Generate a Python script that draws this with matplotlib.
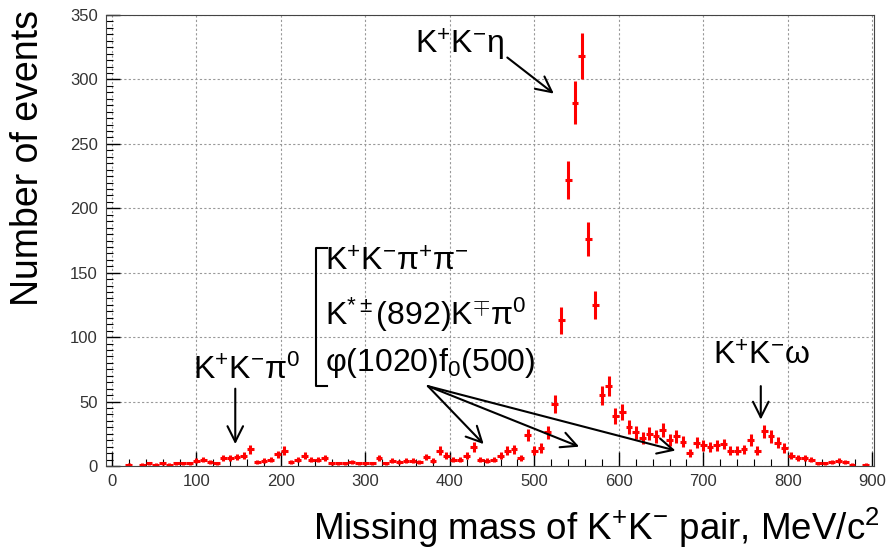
import numpy as np
import matplotlib
matplotlib.use("Agg")
import matplotlib.pyplot as plt
from matplotlib.ticker import MultipleLocator

plt.rcParams['font.family'] = ['Liberation Sans', 'DejaVu Sans']
plt.rcParams['mathtext.fontset'] = 'custom'
plt.rcParams['mathtext.rm'] = 'Liberation Sans'
plt.rcParams['mathtext.it'] = 'Liberation Sans'
plt.rcParams['mathtext.bf'] = 'Liberation Sans:bold'

# missing mass bin centres (MeV/c^2), 8 MeV bins
mass = [20, 28, 36, 44, 52, 60, 68, 76, 84, 92, 100, 108, 116, 124, 132, 140,
        148, 156, 164, 172, 180, 188, 196, 204, 212, 220, 228, 236, 244, 252,
        260, 268, 276, 284, 292, 300, 308, 316, 324, 332, 340, 348, 356, 364,
        372, 380, 388, 396, 404, 412, 420, 428, 436, 444, 452, 460, 468, 476,
        484, 492, 500, 508, 516, 524, 532, 540, 548, 556, 564, 572, 580, 588,
        596, 604, 612, 620, 628, 636, 644, 652, 660, 668, 676, 684, 692, 700,
        708, 716, 724, 732, 740, 748, 756, 764, 772, 780, 788, 796, 804, 812,
        820, 828, 836, 844, 852, 860, 868, 876, 884, 892]
events = [1, 0, 1, 2, 1, 2, 1, 2, 2, 2, 4, 5, 3, 2, 6, 6,
          7, 8, 13, 3, 4, 5, 9, 12, 3, 5, 8, 5, 5, 6,
          2, 2, 2, 3, 2, 2, 2, 6, 2, 4, 3, 4, 4, 3,
          7, 4, 12, 8, 5, 5, 8, 15, 5, 4, 5, 8, 12, 13,
          6, 24, 12, 14, 26, 48, 113, 222, 282, 318, 176, 125, 55, 62,
          39, 42, 30, 26, 22, 25, 23, 28, 20, 23, 19, 10, 18, 16,
          15, 16, 17, 12, 12, 13, 20, 12, 27, 23, 18, 14, 8, 6,
          6, 5, 2, 2, 3, 4, 3, 1, 0, 1]
bin_half = 4

mass = np.array(mass)
events = np.array(events, dtype=float)
keep = events > 0

fig = plt.figure(figsize=(8.89, 5.52), dpi=100)
ax = fig.add_axes([106/889, 1-466/552, 768/889, 451/552])

ax.errorbar(mass[keep], events[keep], yerr=np.sqrt(events[keep]), xerr=bin_half,
            fmt='none', ecolor='red', elinewidth=2.2, capsize=0)

ax.set_xlim(-7, 902)
ax.set_ylim(0, 350)
ax.xaxis.set_major_locator(MultipleLocator(100))
ax.xaxis.set_minor_locator(MultipleLocator(20))
ax.yaxis.set_major_locator(MultipleLocator(50))
ax.yaxis.set_minor_locator(MultipleLocator(5))
ax.tick_params(which='both', direction='in', labelsize=12, pad=6, labelcolor='#333333')
ax.tick_params(which='major', length=10, width=1)
ax.tick_params(which='minor', length=5, width=0.8)
ax.grid(True, which='major', linestyle=(0, (2, 2)), color='#999999', linewidth=0.8)
for s in ax.spines.values():
    s.set_color('#444444')

fig.text(28/889, 1-10/552, "Number of events", rotation=90, ha='center', va='top', fontsize=27)
fig.text(880/889, 1-540/552, r"Missing mass of K$^{+}$K$^{-}$ pair, MeV/c$^{2}$",
         ha='right', va='baseline', fontsize=26.5)

arrow = dict(arrowstyle='->', lw=1.5, color='black', mutation_scale=28, shrinkA=0, shrinkB=0)

# K+K- eta
ax.text(359, 327, "K$^{+}$K$^{-}$η", fontsize=23, va='center', ha='left')
ax.annotate('', xy=(523, 289), xytext=(468, 317), arrowprops=arrow)

# K+K- pi0
ax.text(96, 74, "K$^{+}$K$^{-}$π$^{0}$", fontsize=23, va='center', ha='left')
ax.annotate('', xy=(146, 17), xytext=(146, 60), arrowprops=arrow)

# K+K- omega
ax.text(711, 85, "K$^{+}$K$^{-}$ω", fontsize=23, va='center', ha='left')
ax.annotate('', xy=(768, 36), xytext=(768, 62), arrowprops=arrow)

# bracketed channels
ax.plot([254, 242, 242, 254], [169, 169, 62, 62], color='black', lw=1.5, clip_on=False)
ax.text(252, 158, "K$^{+}$K$^{-}$π$^{+}$π$^{-}$", fontsize=23, va='center', ha='left')
ax.text(252, 117, r"K$^{*\pm}$(892)K$^{\mp}$π$^{0}$", fontsize=23, va='center', ha='left')
ax.text(252, 80, "φ(1020)f$_{0}$(500)", fontsize=23, va='center', ha='left')
for tip in [(440, 17), (553, 15), (667, 12)]:
    ax.annotate('', xy=tip, xytext=(374, 62), arrowprops=arrow)

fig.savefig("out.png", dpi=100)
